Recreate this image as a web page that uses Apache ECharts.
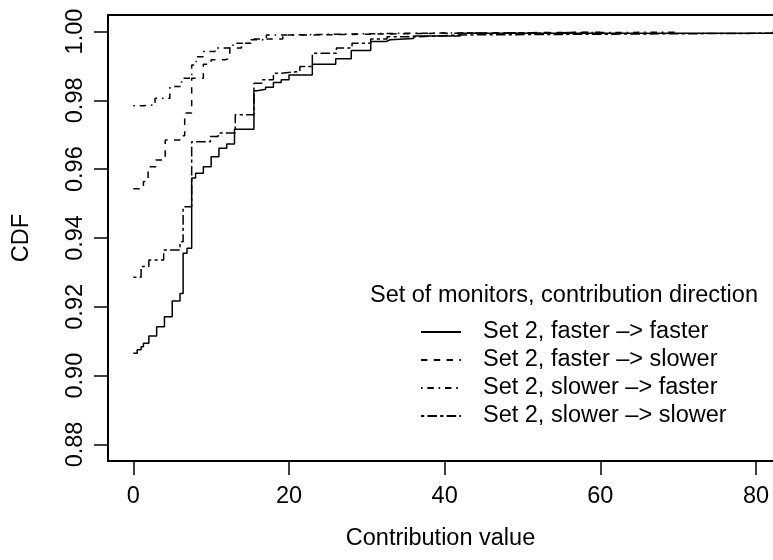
<!DOCTYPE html>
<html>
<head>
<meta charset="utf-8">
<script src="https://cdn.jsdelivr.net/npm/echarts@6/dist/echarts.min.js"></script>
<style>
  html, body { margin: 0; padding: 0; background: #fff; }
  #chart { width: 773px; height: 560px; }
</style>
</head>
<body>
<div id="chart"></div>
<script>
// step points (jump position, cdf value after the jump)
const ffX = [0, 0.5, 1.0, 1.3, 2.0, 3.0, 4.0, 5.0, 6.0, 6.4, 6.9, 7.5, 8.0, 9.0, 10.0, 11.0, 12.0, 13.0, 15.5, 15.9, 17.0, 18.0, 19.0, 20.0, 23.0, 26.0, 28.0, 30.5, 32.5, 33.0, 36.0, 42.0, 82.2];
const ffY = [0.9065, 0.9075, 0.9084, 0.9094, 0.9115, 0.9142, 0.9171, 0.9217, 0.9239, 0.9356, 0.937, 0.9574, 0.9588, 0.9607, 0.9636, 0.9661, 0.9673, 0.9716, 0.9828, 0.9832, 0.9838, 0.9852, 0.986, 0.9874, 0.9905, 0.9921, 0.9945, 0.9971, 0.9976, 0.998, 0.9987, 0.9995, 1.0];

const fsX = [0, 1.3, 1.9, 2.9, 4.1, 6.0, 6.6, 7.5, 9.0, 10.0, 11.8, 12.4, 13.9, 15.5, 19.2, 22.3, 40.0, 60.0];
const fsY = [0.9543, 0.9564, 0.9607, 0.9627, 0.9685, 0.9697, 0.9763, 0.9864, 0.9905, 0.9918, 0.9922, 0.9952, 0.9966, 0.9978, 0.999, 0.9995, 0.9998, 1.0];

const sfX = [0, 1.3, 2.8, 4.7, 6.2, 7.5, 8.1, 9.0, 10.5, 12.8, 15.0, 17.1, 19.7, 35.0, 70.0];
const sfY = [0.9784, 0.9787, 0.9806, 0.984, 0.9864, 0.9903, 0.9927, 0.9942, 0.9952, 0.9966, 0.9976, 0.999, 0.9995, 0.9998, 1.0];

const ssX = [0, 1.0, 2.0, 3.9, 6.0, 6.4, 7.5, 9.9, 10.9, 13.1, 15.5, 16.5, 18.0, 19.0, 21.4, 23.0, 26.1, 28.1, 30.5, 32.6, 36.8, 42.0, 82.2];
const ssY = [0.9286, 0.9317, 0.9336, 0.9365, 0.9389, 0.9491, 0.968, 0.9695, 0.9705, 0.9758, 0.985, 0.986, 0.9879, 0.9884, 0.9898, 0.9937, 0.9952, 0.9966, 0.9978, 0.9985, 0.999, 0.9995, 1.0];

const seriesNames = [
  'Set 2, faster –> faster',
  'Set 2, faster –> slower',
  'Set 2, slower –> faster',
  'Set 2, slower –> slower'
];
const xTicks = [0, 20, 40, 60, 80];
const yTicks = [0.88, 0.90, 0.92, 0.94, 0.96, 0.98, 1.00];

const FONT = '"Liberation Sans", Arial, Helvetica, sans-serif';
const FS = 23.5;
const dashes = ['solid', [6.4, 6.4], [1.6, 4.8, 6.4, 4.8], [3.2, 3.2, 9.6, 3.2]];

function zip(xs, ys) {
  return xs.map((x, i) => [x, ys[i]]);
}

const allData = [zip(ffX, ffY), zip(fsX, fsY), zip(sfX, sfY), zip(ssX, ssY)];

const chart = echarts.init(document.getElementById('chart'));

const xMin = -3.25, xMax = 82.18;

chart.setOption({
  animation: false,
  backgroundColor: '#fff',
  title: {
    text: 'Set of monitors, contribution direction',
    left: 370,
    top: 284,
    padding: 0,
    textStyle: { fontFamily: FONT, fontSize: FS, fontWeight: 'normal', color: '#000' }
  },
  legend: {
    data: seriesNames,
    orient: 'vertical',
    left: 420,
    top: 320,
    padding: 0,
    itemWidth: 40,
    itemHeight: 14,
    itemGap: 4,
    itemStyle: { opacity: 0 },
    textStyle: { fontFamily: FONT, fontSize: FS, color: '#000', padding: [0, 0, 0, 17] }
  },
  grid: {
    left: 108,
    top: 15,
    right: 0,
    bottom: 99,
    containLabel: false
  },
  xAxis: [{
    type: 'value',
    min: xMin,
    max: xMax,
    name: 'Contribution value',
    nameLocation: 'middle',
    nameGap: 66,
    nameTextStyle: { fontFamily: FONT, fontSize: FS, color: '#000' },
    axisLine: { show: true, onZero: false, lineStyle: { color: '#000', width: 2 } },
    splitLine: { show: false },
    axisTick: {
      show: true, length: 14, inside: false,
      customValues: xTicks,
      lineStyle: { color: '#000', width: 1.5 }
    },
    axisLabel: {
      customValues: xTicks,
      margin: 24,
      fontFamily: FONT, fontSize: FS, color: '#000'
    }
  }, {
    type: 'value',
    position: 'top',
    min: xMin,
    max: xMax,
    axisLine: { show: true, onZero: false, lineStyle: { color: '#000', width: 2 } },
    splitLine: { show: false },
    axisTick: { show: false },
    axisLabel: { show: false }
  }],
  yAxis: {
    type: 'value',
    min: 0.8752,
    max: 1.0048,
    name: 'CDF',
    nameLocation: 'middle',
    nameRotate: 90,
    nameGap: 74,
    nameTextStyle: { fontFamily: FONT, fontSize: FS, color: '#000' },
    axisLine: { show: true, onZero: false, lineStyle: { color: '#000', width: 2 } },
    splitLine: { show: false },
    axisTick: {
      show: true, length: 14, inside: false,
      customValues: yTicks,
      lineStyle: { color: '#000', width: 1.5 }
    },
    axisLabel: {
      customValues: yTicks,
      rotate: 90,
      margin: 20,
      fontFamily: FONT, fontSize: FS, color: '#000',
      formatter: v => v.toFixed(2)
    }
  },
  series: seriesNames.map((name, i) => ({
    name: name,
    type: 'line',
    step: 'end',
    symbol: 'none',
    data: allData[i],
    lineStyle: { color: '#000', width: 1.5, type: dashes[i] },
    itemStyle: { color: '#000' }
  }))
});
</script>
</body>
</html>
